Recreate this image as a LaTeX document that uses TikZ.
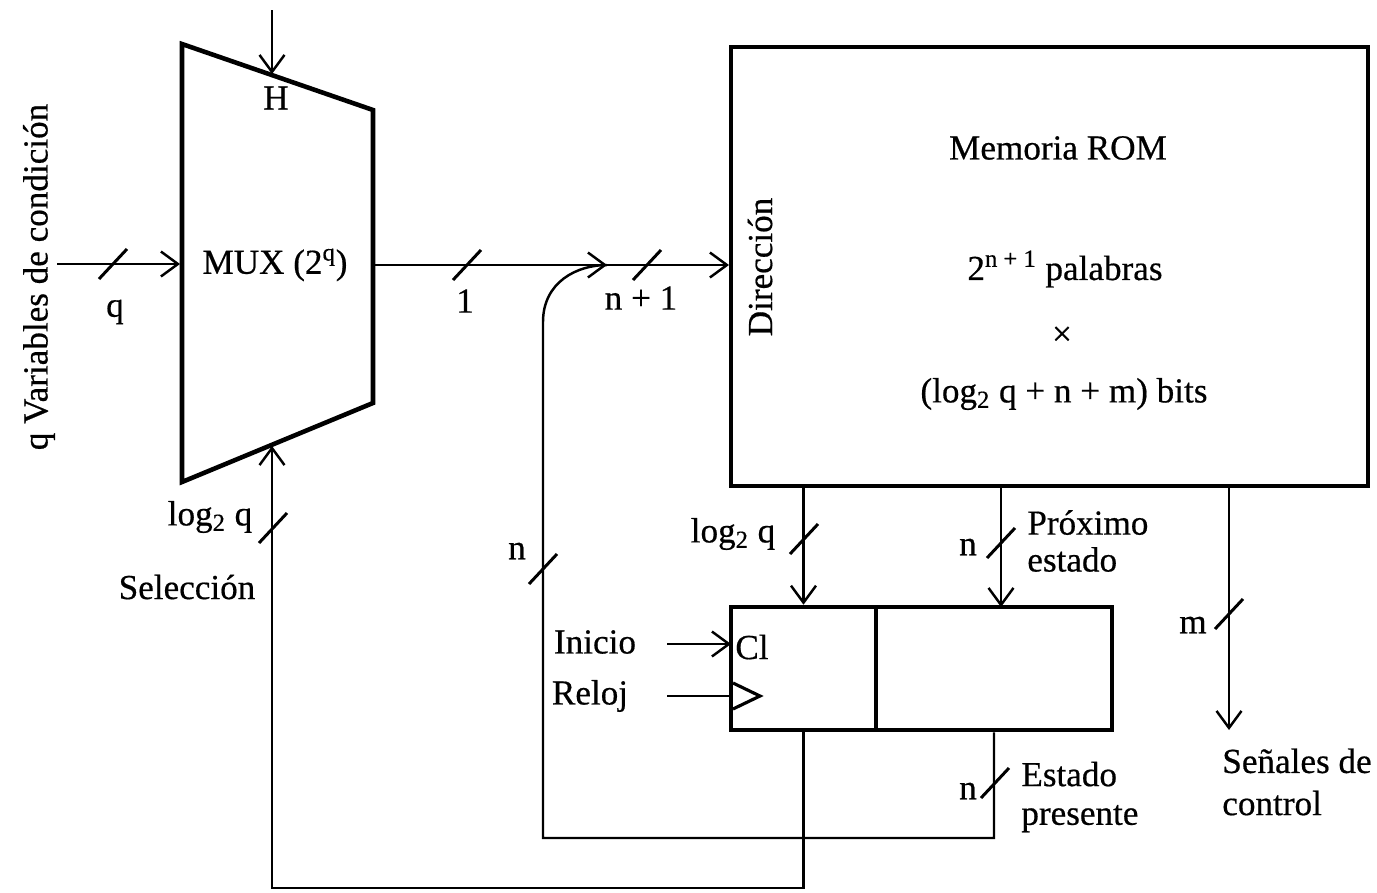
\documentclass[tikz,border=0pt]{standalone}
\usepackage{fontspec}
\setmainfont[FakeBold=0.5]{Liberation Serif}
\usetikzlibrary{arrows.meta,calc}
\begin{document}
\begin{tikzpicture}[
  x=0.02cm,y=-0.02cm,
  font=\fontsize{20}{22}\selectfont,
  box/.style={draw,line width=2.6pt,inner sep=0pt},
  link/.style={draw,line width=1.4pt},
  sig/.style={link,-{Straight Barb[length=3.4mm,width=5mm,line width=1.4pt]}},
  bus/.style={draw,line width=1.7pt},
  lbl/.style={inner sep=0pt,align=left}]
\useasboundingbox (0,0) rectangle (1377,893);
% multiplexor
\coordinate (muxtl) at (182,44);
\coordinate (muxtr) at (373,110);
\coordinate (muxbr) at (373,403);
\coordinate (muxbl) at (182,482);
\draw[line width=2.6pt] (muxtl) -- (muxtr) -- (muxbr) -- (muxbl) -- cycle;
\node[lbl] (muxtxt) at (275,265) {MUX (2\textsuperscript{q})};
\node[lbl] (lh) at (276,98) {H};
% memoria
\node[box,minimum width=12.74cm,minimum height=8.78cm] (rom) at (1049.5,266.5) {};
\node[lbl] (romname) at (1058,148) {Memoria ROM};
\node[lbl] (rompal) at (1065,269) {2\textsuperscript{n + 1} palabras};
\node[lbl] (rompor) at (1062,336) {×};
\node[lbl] (rombits) at (1064,394) {(log\textsubscript{2} q + n + m) bits};
\node[lbl,rotate=90] (romdir) at (760,267) {Dirección};
% registro
\node[box,minimum width=2.9cm,minimum height=2.46cm] (regl) at (803.5,668.5) {};
\node[box,minimum width=4.72cm,minimum height=2.46cm] (regr) at (994,668.5) {};
\node[lbl] (cl) at (752,647) {Cl};
\coordinate (clkA) at (733,683);
\coordinate (clkB) at (760,696);
\coordinate (clkC) at (733,709);
\draw[line width=1.8pt] (clkA) -- (clkB) -- (clkC);
% puntos de union
\coordinate (hin) at (272,10);
\coordinate (hend) at (272,74);
\coordinate (qin) at (57,264);
\coordinate (qend) at (180,264);
\coordinate (muxout) at (373,265);
\coordinate (join) at (607,265);
\coordinate (romin) at (729,265);
\coordinate (fbup) at (543,322);
\coordinate (fbcorner) at (543,838);
\coordinate (sel) at (272,888);
\coordinate (selend) at (272,446);
\coordinate (nxtout) at (1001,486);
\coordinate (nxtin) at (1001,607);
\coordinate (ctlout) at (1229,486);
\coordinate (ctlend) at (1229,730);
\coordinate (iniin) at (667,644);
\coordinate (iniend) at (731,644);
\coordinate (relin) at (667,696);
\coordinate (relend) at (731,696);
% conexiones
\draw[sig] (hin) -- (hend);
\draw[sig] (qin) -- (qend);
\draw[sig] (muxout) -- (join);
\draw[sig] (join) -- (romin);
\draw[link] (regr.south) -- (regr.south |- fbcorner) -- (fbcorner) -- (fbup)
  .. controls +(0,-40) and +(-30,0) .. (join);
\draw[sig] (regl.south) -- (regl.south |- sel) -- (sel) -- (selend);
\draw[sig] (rom.south -| regl.north) -- (regl.north);
\draw[sig] (nxtout) -- (nxtin);
\draw[sig] (ctlout) -- (ctlend);
\draw[sig] (iniin) -- (iniend);
\draw[link] (relin) -- (relend);
% marcas de bus
\foreach \bx/\by in {113/264,467/265,647/265,273/528,543/569,804/539,1001/543,1229/614,995/783}
  \draw[bus] (\bx,\by) ++(-14,15) -- ++(28,-30);
% etiquetas
\node[lbl,rotate=90] (qvars) at (39,277) {q Variables de condición};
\node[lbl] (lq) at (115,312) {q};
\node[lbl] (lone) at (465,301) {1};
\node[lbl] (lnone) at (641,298) {n + 1};
\node[lbl] (llogsel) at (210,517) {log\textsubscript{2} q};
\node[lbl] (lsel) at (187,587) {Selección};
\node[lbl] (lnfb) at (517,551) {n};
\node[lbl] (llogrom) at (733,534) {log\textsubscript{2} q};
\node[lbl] (lnnxt) at (968,547) {n};
\node[lbl,anchor=west] (lnext) at (1027,541) {Próximo\\[-1pt]estado};
\node[lbl] (lm) at (1193,625) {m};
\node[lbl,anchor=west] (lctl) at (1222,782) {Señales de\\[2pt]control};
\node[lbl] (lini) at (595,642) {Inicio};
\node[lbl] (lrel) at (590,696) {Reloj};
\node[lbl] (lnpre) at (968,791) {n};
\node[lbl,anchor=west] (lpre) at (1021,797) {Estado\\presente};
\end{tikzpicture}
\end{document}
